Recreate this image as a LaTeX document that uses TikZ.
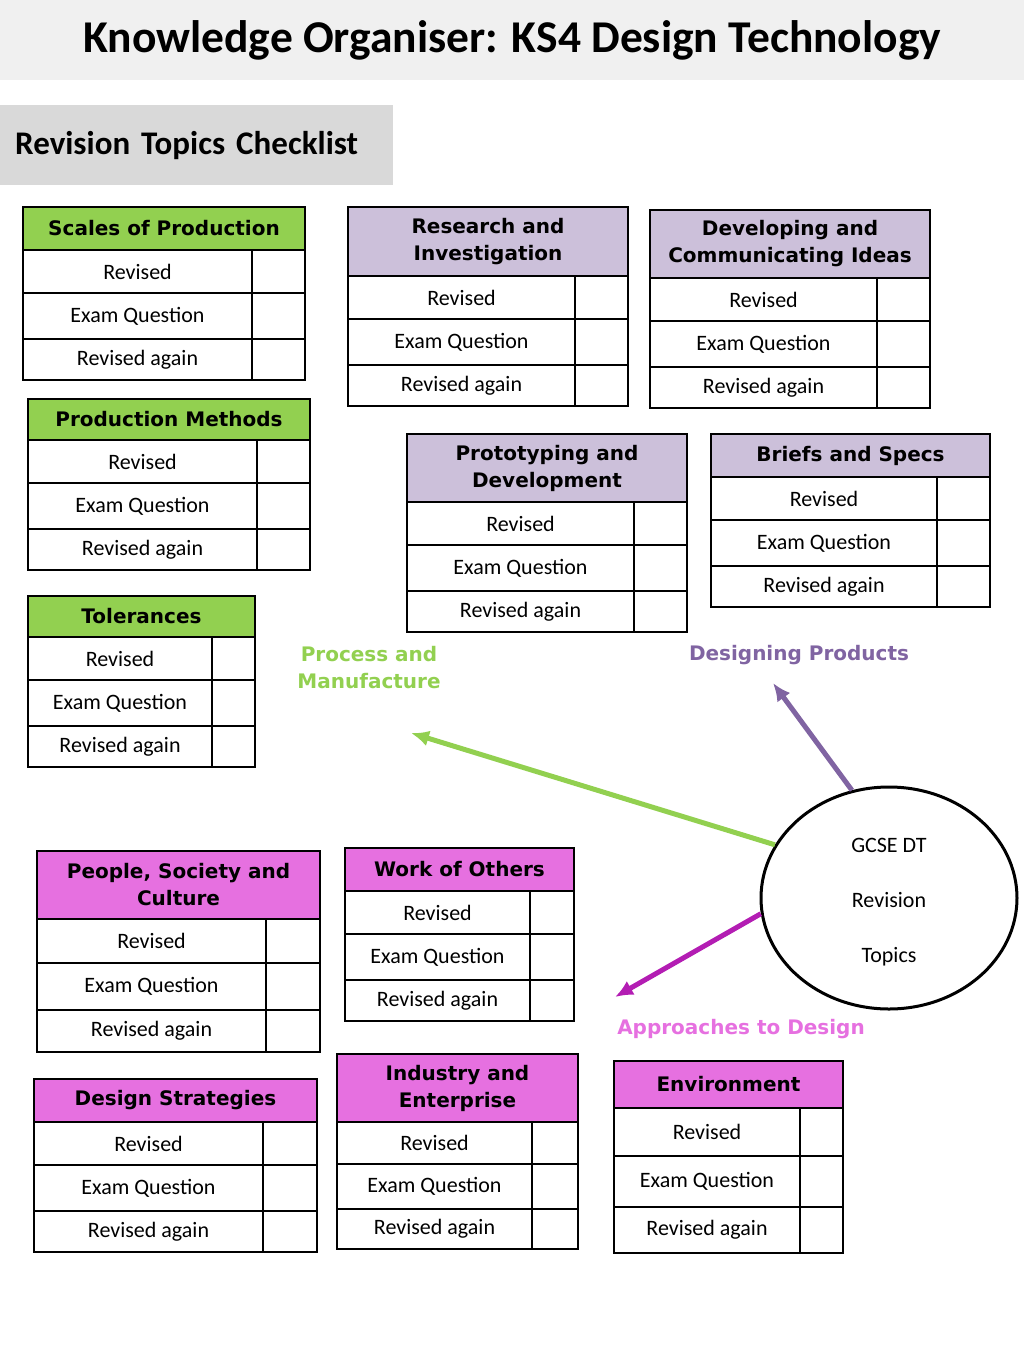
\documentclass[tikz,border=0pt]{standalone}
\usepackage{fontspec}
\setmainfont{Carlito}
\newfontfamily\headfont{DejaVu Sans}
\usetikzlibrary{shapes.geometric,arrows.meta}
\definecolor{band}{HTML}{F0F0F0}
\definecolor{subband}{HTML}{D9D9D9}
\definecolor{PM}{HTML}{92D050}
\definecolor{DP}{HTML}{CCC0DA}
\definecolor{DPtext}{HTML}{8064A2}
\definecolor{AD}{HTML}{E670E0}
\definecolor{ADarrow}{HTML}{B31DB3}
\tikzset{>={Latex[length=18pt,width=16pt]}}
\tikzset{
  headbox/.style={draw, line width=1.6pt, outer sep=0pt, inner sep=0pt, anchor=north west,
    align=center, font=\headfont\bfseries\fontsize{20}{27}\selectfont},
  rowbox/.style={draw, line width=1.6pt, outer sep=0pt, inner sep=0pt, anchor=north west,
    font=\fontsize{22}{26}\selectfont},
  areatext/.style={align=center, font=\headfont\bfseries\fontsize{20}{27}\selectfont},
  spoke/.style={->, line width=5pt}
}
% name, corner, width, tick width, header height, row height, colour, title
\newcommand{\topictable}[8]{%
  \node[headbox, fill=#7, minimum width=#3pt, minimum height=#5pt] (#1) at #2 {#8};
  \node[rowbox, minimum width={(#3-#4)*1pt}, minimum height=#6pt] (#1-a) at (#1.south west) {Revised};
  \node[rowbox, minimum width=#4pt, minimum height=#6pt] (#1-a-tick) at (#1-a.north east) {};
  \node[rowbox, minimum width={(#3-#4)*1pt}, minimum height={(#6+3)*1pt}] (#1-b) at (#1-a.south west) {Exam Question};
  \node[rowbox, minimum width=#4pt, minimum height={(#6+3)*1pt}] (#1-b-tick) at (#1-b.north east) {};
  \node[rowbox, minimum width={(#3-#4)*1pt}, minimum height={(#6-2)*1pt}] (#1-c) at (#1-b.south west) {Revised again};
  \node[rowbox, minimum width=#4pt, minimum height={(#6-2)*1pt}] (#1-c-tick) at (#1-c.north east) {};
}

\begin{document}
\begin{tikzpicture}[x=1pt, y=-1pt]
  \useasboundingbox (0,0) rectangle (1024,1365);

  \node at (0,0) (title) [anchor=north west, fill=band, minimum width=1024pt, minimum height=80pt,
    font=\bfseries\fontsize{45.5}{50}\selectfont] {Knowledge Organiser: KS4 Design Technology};
  \node at (0,105) (checklist) [anchor=north west, fill=subband, text width=363pt, inner xsep=15pt,
    minimum height=80pt, align=left, font=\bfseries\fontsize{33}{36}\selectfont] {Revision Topics Checklist};

  % process and manufacture
  \topictable{scales}{(23,207)}{282}{53}{43}{43}{PM}{Scales of Production}
  \topictable{methods}{(28,399)}{282}{53}{41}{43}{PM}{Production Methods}
  \topictable{tolerances}{(28,596)}{227}{43}{41}{43}{PM}{Tolerances}

  % designing products
  \topictable{research}{(348,207)}{280}{53}{69}{43}{DP}{Research and\\Investigation}
  \topictable{developing}{(650,210)}{280}{53}{68}{43}{DP}{Developing and\\Communicating Ideas}
  \topictable{prototyping}{(407,434)}{280}{53}{68}{43}{DP}{Prototyping and\\Development}
  \topictable{briefs}{(711,434)}{279}{53}{43}{43}{DP}{Briefs and Specs}

  % approaches to design
  \topictable{people}{(37,851)}{283}{54}{68}{44}{AD}{People, Society and\\Culture}
  \topictable{others}{(345,848)}{229}{44}{43}{43}{AD}{Work of Others}
  \topictable{strategies}{(34,1079)}{283}{54}{43}{43}{AD}{Design Strategies}
  \topictable{industry}{(337,1054)}{241}{46}{68}{42}{AD}{Industry and\\Enterprise}
  \topictable{environment}{(614,1061)}{229}{43}{47}{48}{AD}{Environment}

  \node at (369,668) (pm-label) [areatext, text=PM] {Process and\\Manufacture};
  \node at (799,655) (dp-label) [areatext, text=DPtext] {Designing Products};
  \node at (741,1029) (ad-label) [areatext, text=AD] {Approaches to Design};

  \node at (889,898) (hub) [ellipse, draw, line width=3pt, minimum width=256pt, minimum height=222pt,
    align=center, font=\fontsize{22}{26}\selectfont] {\\[-4pt]GCSE DT\\[29pt]Revision\\[29pt]Topics};

  \coordinate (pm-tip) at (411,733);
  \coordinate (dp-tip) at (773,683);
  \coordinate (ad-tip) at (615,997);
  \draw[spoke, PM] (hub.155) -- (pm-tip);
  \draw[spoke, DPtext] (hub.109) -- (dp-tip);
  \draw[spoke, ADarrow] (hub.187) -- (ad-tip);
\end{tikzpicture}
\end{document}
